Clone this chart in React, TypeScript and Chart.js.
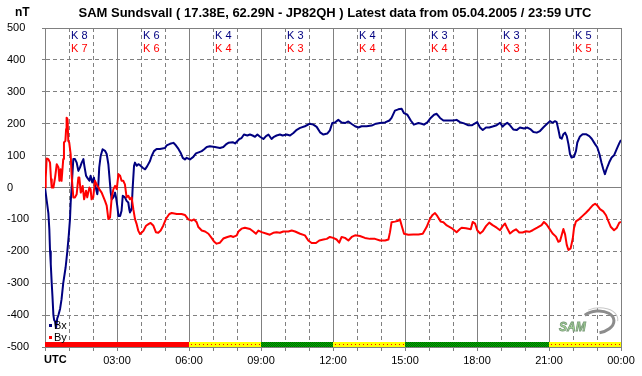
import React, { useEffect, useRef } from 'react';
import { Chart, registerables } from 'chart.js';

Chart.register(...registerables);

const TITLE = 'SAM Sundsvall ( 17.38E, 62.29N - JP82QH ) Latest data from 05.04.2005 / 23:59 UTC';
const UNIT = 'nT';
const xTickLabels = ['UTC', '03:00', '06:00', '09:00', '12:00', '15:00', '18:00', '21:00', '00:00'];
const yTicks = [-500, -400, -300, -200, -100, 0, 100, 200, 300, 400, 500];
const kIndexX = [8, 6, 4, 3, 4, 3, 3, 5];
const kIndexY = [7, 6, 4, 3, 4, 4, 3, 5];
const seriesNames = ['Bx', 'By'];

const bxHours = [
  0, 0.07, 0.14, 0.18, 0.21, 0.24, 0.28, 0.31, 0.35, 0.38, 0.42, 0.46, 0.51, 0.56, 0.63, 0.69, 0.76, 0.86, 0.93, 0.99, 1.04, 1.07, 1.11,
  1.18, 1.25, 1.32, 1.39, 1.46, 1.53, 1.6, 1.64, 1.71, 1.76, 1.85, 1.9, 1.97, 2.04, 2.08, 2.13, 2.18, 2.22, 2.26, 2.32, 2.4, 2.5, 2.57,
  2.64, 2.68, 2.74, 2.78, 2.85, 2.92, 2.96, 3.01, 3.06, 3.13, 3.19, 3.24, 3.33, 3.4, 3.47, 3.51, 3.54, 3.61, 3.65, 3.71, 3.75, 3.82, 3.89, 3.96,
  4.07, 4.17, 4.26, 4.375, 4.44, 4.54, 4.65, 4.79, 5.0, 5.07, 5.21, 5.35, 5.42, 5.56, 5.65, 5.74, 5.83, 5.9, 6.04, 6.18, 6.29, 6.43, 6.53,
  6.62, 6.74, 6.87, 7.08, 7.29, 7.43, 7.54, 7.64, 7.82, 7.92, 8.01, 8.1, 8.19, 8.29, 8.43, 8.54, 8.65, 8.75, 8.85, 8.96, 9.1, 9.21, 9.31,
  9.44, 9.54, 9.65, 9.79, 9.9, 10.07,
  10.21, 10.35, 10.49, 10.63, 10.83, 11.04, 11.18, 11.32, 11.46, 11.6, 11.76, 11.87, 11.97, 12.08, 12.22, 12.36, 12.5, 12.64, 12.78, 12.92,
  13.06, 13.19, 13.4, 13.61, 13.79, 13.96, 14.17, 14.35, 14.44, 14.58, 14.72, 14.86, 14.96, 15.1, 15.24, 15.37, 15.56, 15.69, 15.79, 15.93,
  16.07, 16.21, 16.32, 16.46, 16.6, 16.8, 17.01, 17.15, 17.29,
  17.46, 17.64, 17.78, 17.92, 18.01, 18.125, 18.24, 18.375, 18.51, 18.65, 18.82, 18.96, 19.07, 19.17, 19.26, 19.375, 19.51, 19.65, 19.79,
  19.96, 20.1, 20.24, 20.35, 20.49, 20.625, 20.76, 20.9, 21.04, 21.15, 21.25, 21.32, 21.39, 21.46, 21.53, 21.6, 21.67, 21.74, 21.81, 21.875,
  21.94, 22.04, 22.125, 22.18, 22.29, 22.4, 22.54, 22.68, 22.78, 22.92, 23.01, 23.1, 23.19, 23.26, 23.33, 23.4, 23.51, 23.61, 23.71, 23.82,
  23.93, 24.0,
];
const bxValues = [
  0, -40, -80, -130, -200, -240, -300, -340, -400, -415, -420, -440, -410, -400, -380, -350, -300, -250, -200, -150, -100, -48, 0,
  89, 89, 78, 52, 63, 78, 89, 68, 37, 31, 21, 37, 16, 31, 10, -5, -21, 5, 63, 99, 120, 115, 105,
  73, 37, -16, -37, -31, -16, -31, -57, -89, -89, -73, -26, -31, -42, -47, -68, -78, -68, -5, 68, 78, 68, 73, 70,
  62, 57, 67, 83, 98, 114, 121, 121, 124, 132, 137, 140, 135, 121, 109, 93, 88, 93, 88, 96, 107, 111, 114,
  119, 127, 129, 127, 124, 127, 135, 140, 142, 138, 145, 152, 155, 166, 163, 166, 163, 159, 166, 159, 152, 161, 166,
  152, 159, 163, 166, 163, 166,
  163, 171, 181, 187, 192, 200, 197, 190, 173, 166, 169, 179, 202, 204, 212, 204, 202, 207, 199, 192,
  188, 192, 192, 194, 200, 202, 204, 210, 218, 241, 245, 247, 233, 228, 210, 197, 202, 200, 197, 204,
  218, 228, 231, 218, 210, 210, 210, 212, 205,
  201, 195, 195, 201, 205, 188, 180, 188, 188, 191, 195, 203, 191, 198, 203, 195, 182, 180, 188,
  185, 188, 182, 174, 172, 177, 188, 198, 208, 203, 208, 205, 182, 156, 153, 167, 172, 161, 136, 105,
  94, 96, 115, 141, 160, 167, 167, 161, 153, 136, 126, 105, 77, 58, 42, 58, 79, 94, 101, 120,
  139, 149,
];

const byHours = [
  0, 0.03, 0.07, 0.14, 0.21, 0.25, 0.28, 0.35, 0.42, 0.49, 0.56, 0.6, 0.65, 0.69, 0.76, 0.79, 0.85, 0.88, 0.9, 0.94, 0.97, 1.01, 1.07,
  1.11, 1.18, 1.25, 1.32, 1.39, 1.43, 1.49, 1.57, 1.63, 1.71, 1.76, 1.85, 1.9, 1.94, 2.01, 2.08, 2.15, 2.26, 2.36, 2.5, 2.57, 2.64, 2.71,
  2.78, 2.85, 2.92, 2.99, 3.06, 3.13, 3.19, 3.26, 3.33, 3.4, 3.47, 3.54, 3.61, 3.68, 3.75, 3.82, 3.89, 3.96, 4.03, 4.1, 4.21, 4.31,
  4.4, 4.51, 4.62, 4.72, 4.82, 4.93, 5.04, 5.18, 5.28, 5.49, 5.69, 5.83, 5.97, 6.11, 6.21, 6.32, 6.39, 6.53, 6.67, 6.81, 6.94, 7.04,
  7.15, 7.29, 7.43, 7.6, 7.74, 7.85, 7.99, 8.06, 8.19, 8.33, 8.54, 8.68, 8.79, 8.89, 9.03, 9.24, 9.37, 9.51, 9.65, 9.79, 9.93, 10.14,
  10.28, 10.42, 10.63, 10.83, 10.97, 11.11, 11.29, 11.43, 11.6, 11.74, 11.87, 12.01, 12.15, 12.26, 12.36, 12.5, 12.64, 12.78, 12.92,
  13.12, 13.33, 13.54, 13.75, 13.96, 14.17, 14.31, 14.375, 14.44, 14.58, 14.72, 14.79, 14.86, 14.96, 15.14, 15.35, 15.56, 15.74, 15.9,
  16.04, 16.15, 16.25, 16.35, 16.49, 16.6, 16.74, 16.94, 17.15, 17.29, 17.36, 17.54, 17.74, 17.82, 17.92, 18.01, 18.125, 18.24, 18.375,
  18.51, 18.65, 18.82, 18.96, 19.07, 19.17, 19.26, 19.375, 19.49, 19.625, 19.76, 19.9, 20.04, 20.18, 20.32, 20.51, 20.69, 20.79, 20.9,
  21.01, 21.15, 21.29, 21.39, 21.46, 21.53, 21.6, 21.67, 21.74, 21.81, 21.9, 21.99, 22.04, 22.125, 22.26, 22.4, 22.54, 22.68, 22.82,
  22.92, 23.01, 23.125, 23.26, 23.375, 23.47, 23.57, 23.71, 23.82, 23.93, 24.0,
];
const byValues = [
  0, 30, 91, 89, 78, 26, 0, 0, 31, 73, 63, 21, 57, 21, 89, 141, 146, 183, 219, 214, 146, 141, 104,
  37, -31, -31, -21, 31, 31, -16, 5, -37, -10, -31, 0, -5, -37, -31, 21, 10, -5, -16, -42, -57, -99, -94,
  -31, -5, 5, -5, 42, 37, 21, 21, 10, -31, -26, -37, -31, -68, -99, -115, -136, -146, -141, -136, -120, -115,
  -111, -119, -140, -142, -135, -119, -98, -83, -80, -83, -83, -86, -100, -104, -100, -109, -124, -135, -138, -145, -158, -169,
  -176, -173, -160, -155, -152, -155, -150, -138, -129, -126, -130, -138, -145, -135, -140, -145, -148, -142, -140, -142, -138, -138,
  -135, -138, -145, -150, -166, -174, -174, -166, -163, -161, -155, -158, -163, -173, -155, -158, -166, -155, -150,
  -152, -158, -161, -161, -166, -166, -163, -140, -109, -107, -104, -100, -119, -145, -148, -147, -147, -145, -124,
  -98, -86, -80, -90, -107, -109, -119, -127, -140, -130, -126, -128, -131, -108, -113, -134, -144, -137, -121,
  -110, -118, -126, -134, -121, -113, -128, -144, -137, -131, -141, -141, -137, -139, -134, -126, -118, -108, -116,
  -128, -144, -154, -170, -168, -149, -130, -147, -180, -196, -191, -160, -128, -106, -99, -89, -79, -68, -56,
  -51, -56, -68, -75, -87, -105, -123, -134, -127, -110, -108,
];

const FONT = '"Liberation Sans", Arial, Helvetica, sans-serif';
const GRID = '#808080';
const NAVY = '#000080';
const RED = '#ff0000';

function statusFill(k: number) {
  if (k >= 6) return 'red';
  if (k >= 4) return 'yellow';
  return 'green';
}

const decorPlugin = {
  id: 'decor',
  afterDraw(chart: any) {
    const { ctx, chartArea: a, scales } = chart;
    const xs = scales.x;
    ctx.save();
    ctx.fillStyle = '#000';
    ctx.textBaseline = 'middle';
    // title + unit
    ctx.font = `bold 13px ${FONT}`;
    ctx.textAlign = 'center';
    ctx.fillText(TITLE, 335, 13);
    ctx.font = `bold 12px ${FONT}`;
    ctx.textAlign = 'left';
    ctx.fillText(UNIT, 15, 13);
    // UTC label
    ctx.font = `bold 11px ${FONT}`;
    ctx.fillText(xTickLabels[0], a.left - 1, 360);
    // K indices
    ctx.font = `11px ${FONT}`;
    for (let i = 0; i < kIndexX.length; i++) {
      const px = xs.getPixelForValue(3 * i + 1) + 2;
      ctx.fillStyle = NAVY;
      ctx.fillText('K ' + kIndexX[i], px, 36);
      ctx.fillStyle = RED;
      ctx.fillText('K ' + kIndexY[i], px, 49);
    }
    // status bar
    const y0 = a.bottom - 5;
    for (let i = 0; i < kIndexX.length; i++) {
      const x0 = Math.round(xs.getPixelForValue(3 * i));
      const x1 = Math.round(xs.getPixelForValue(3 * i + 3));
      const kind = statusFill(kIndexX[i]);
      if (kind === 'red') {
        ctx.fillStyle = '#ff0000';
        ctx.fillRect(x0, y0, x1 - x0, 5);
      } else if (kind === 'yellow') {
        ctx.fillStyle = '#ffff00';
        ctx.fillRect(x0, y0, x1 - x0, 5);
        ctx.fillStyle = '#ff0000';
        for (let xx = x0 + 2; xx < x1 - 1; xx += 4) ctx.fillRect(xx, y0 + 2, 1, 1);
      } else {
        ctx.fillStyle = '#00b000';
        ctx.fillRect(x0, y0, x1 - x0, 5);
        ctx.fillStyle = '#006400';
        for (let yy = y0; yy < y0 + 5; yy++)
          for (let xx = x0; xx < x1; xx++) if ((xx + yy) % 2 === 0) ctx.fillRect(xx, yy, 1, 1);
      }
    }
    // legend
    ctx.font = `11px ${FONT}`;
    ctx.fillStyle = NAVY;
    ctx.fillRect(49, 324, 3, 3);
    ctx.fillStyle = RED;
    ctx.fillRect(49, 336, 3, 3);
    ctx.fillStyle = '#000';
    ctx.fillText(seriesNames[0], 54, 326);
    ctx.fillText(seriesNames[1], 54, 338);
    // logo
    ctx.save();
    ctx.translate(597, 322);
    ctx.rotate(-0.12);
    ctx.strokeStyle = '#8c8c8c';
    ctx.lineWidth = 3;
    ctx.beginPath();
    ctx.ellipse(0, 0, 17, 11, 0, -2.3, 1.5);
    ctx.stroke();
    ctx.strokeStyle = '#c8c8c8';
    ctx.lineWidth = 1;
    ctx.beginPath();
    ctx.ellipse(1, -1, 20, 13, 0, -2.0, 0.2);
    ctx.stroke();
    ctx.restore();
    ctx.font = `italic bold 12px ${FONT}`;
    ctx.textAlign = 'left';
    ctx.fillStyle = '#a8dc98';
    ctx.strokeStyle = '#7a9a7a';
    ctx.lineWidth = 0.8;
    ctx.fillText('SAM', 559, 328);
    ctx.strokeText('SAM', 559, 328);
    ctx.restore();
  },
};

export default function App() {
  const ref = useRef<HTMLCanvasElement>(null);
  useEffect(() => {
    if (!ref.current) return;
    Chart.defaults.font.family = FONT;
    const bx = bxHours.map((h, i) => ({ x: h, y: bxValues[i] }));
    const by = byHours.map((h, i) => ({ x: h, y: byValues[i] }));
    const chart = new Chart(ref.current, {
      type: 'line',
      data: {
        datasets: [
          { label: seriesNames[0], data: bx, borderColor: NAVY, backgroundColor: NAVY, borderWidth: 2, pointRadius: 0, tension: 0, borderJoinStyle: 'round', order: 1 },
          { label: seriesNames[1], data: by, borderColor: RED, backgroundColor: RED, borderWidth: 2, pointRadius: 0, tension: 0, borderJoinStyle: 'round', order: 0 },
        ],
      },
      options: {
        responsive: false,
        animation: false,
        devicePixelRatio: 1,
        layout: { padding: { left: 7, top: 28, right: 21, bottom: 0 } },
        plugins: { legend: { display: false }, tooltip: { enabled: false }, title: { display: false } },
        scales: {
          x: {
            type: 'linear',
            min: 0,
            max: 24,
            afterFit: (s: any) => { s.height = 29; },
            ticks: {
              stepSize: 1,
              autoSkip: false,
              maxRotation: 0,
              minRotation: 0,
              padding: 3,
              color: '#000',
              font: { size: 11 },
              callback: (v: any) => (v % 3 === 0 && v > 0 ? xTickLabels[v / 3] : ''),
            },
            grid: { color: GRID, lineWidth: 1, tickLength: 4, tickColor: GRID },
            border: {
              color: GRID,
              width: 1,
              dash: (c: any) => (c.tick && c.tick.value % 3 !== 0 ? [4, 3] : []),
            },
          },
          y: {
            type: 'linear',
            min: yTicks[0],
            max: yTicks[yTicks.length - 1],
            afterFit: (s: any) => { s.width = 38; },
            ticks: {
              stepSize: 100,
              crossAlign: 'far',
              padding: 2,
              color: '#000',
              font: { size: 11 },
            },
            grid: { color: GRID, lineWidth: 1, tickLength: 3, tickColor: GRID },
            border: {
              color: GRID,
              width: 1,
              dash: (c: any) => (c.tick && c.tick.value !== 0 && Math.abs(c.tick.value) !== 500 ? [4, 3] : []),
            },
          },
        },
      },
      plugins: [decorPlugin],
    });
    return () => chart.destroy();
  }, []);
  return (
    <div style={{ position: 'fixed', left: 0, top: 0, width: 642, height: 376, background: '#fff' }}>
      <canvas ref={ref} width={642} height={376} style={{ display: 'block', width: 642, height: 376 }} />
    </div>
  );
}
